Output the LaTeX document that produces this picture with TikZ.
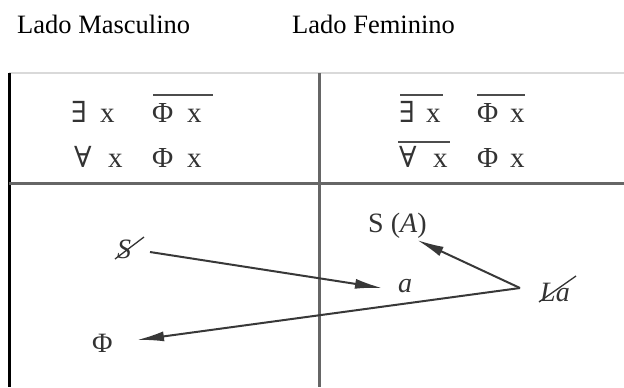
\documentclass[tikz,border=0pt]{standalone}
\usepackage{fontspec}
\setmainfont{Liberation Serif}
\newfontfamily\symf{DejaVu Serif}
\usetikzlibrary{arrows.meta}
\begin{document}
\begin{tikzpicture}[x=1bp,y=-1bp,
  head/.style={anchor=base west,inner sep=0pt,font=\fontsize{26.5bp}{30bp}\selectfont},
  frm/.style={anchor=base west,inner sep=0pt,font=\fontsize{29bp}{30bp}\selectfont,text=black!80},
  lbl/.style={anchor=base west,inner sep=0pt,font=\fontsize{28bp}{30bp}\selectfont,text=black!80},
  bar/.style={line width=2.2bp,black!70},
  frame/.style={line width=3bp},
  arr/.style={draw=black!78,line width=2bp,-{Latex[length=27bp,width=10bp]}},
  slash/.style={line width=1.3bp,black!80}]
\useasboundingbox (0,0) rectangle (624,387);
% headings
\node[head] (hm) at (17,33) {Lado Masculino};
\node[head] (hf) at (292,33) {Lado Feminino};
% table frame
\draw[line width=2bp,black!15] (9,73) -- (624,73);
\draw[frame,black] (9,73) -- (9,387);
\draw[frame,black!60] (319.5,73) -- (319.5,387);
\draw[frame,black!60] (9,183) -- (624,183);
% formulas, male side
\node[frm] (m1q) at (71,122) {\symf ∃};
\node[frm] (m1x) at (100,122) {x};
\node[frm] (m1p) at (152,122) {Φ};
\node[frm] (m1y) at (187,122) {x};
\node[frm] (m2q) at (74,167) {\symf ∀};
\node[frm] (m2x) at (108,167) {x};
\node[frm] (m2p) at (152,167) {Φ};
\node[frm] (m2y) at (187,167) {x};
% formulas, female side
\node[frm] (f1q) at (399,122) {\symf ∃};
\node[frm] (f1x) at (426,122) {x};
\node[frm] (f1p) at (477,122) {Φ};
\node[frm] (f1y) at (510,122) {x};
\node[frm] (f2q) at (399,167) {\symf ∀};
\node[frm] (f2x) at (433,167) {x};
\node[frm] (f2p) at (477,167) {Φ};
\node[frm] (f2y) at (510,167) {x};
% negation bars
\draw[bar] ([shift={(1,-27)}]m1p.base west) -- ([shift={(61,-27)}]m1p.base west);
\draw[bar] ([shift={(1,-27)}]f1q.base west) -- ([shift={(44,-27)}]f1q.base west);
\draw[bar] ([shift={(0,-27)}]f1p.base west) -- ([shift={(48,-27)}]f1p.base west);
\draw[bar] ([shift={(-1,-25)}]f2q.base west) -- ([shift={(51,-25)}]f2q.base west);
% lower part
\node[lbl] (S) at (117,258) {\textit{S}};
\draw[slash] ([shift={(-2,1)}]S.base west) -- ([shift={(27,-21)}]S.base west);
\node[lbl] (a) at (398,292) {\textit{a}};
\node[lbl] (SA) at (368,232) {S (\textit{A})};
\node[lbl] (La) at (540,301) {\textit{La}};
\draw[slash] ([shift={(-1,1)}]La.base west) -- ([shift={(36,-25)}]La.base west);
\node[lbl] (Phi) at (92,352) {Φ};
% arrows
\draw[arr] ([shift={(33,-6)}]S.base west) -- ([shift={(-16,-4)}]a.base west);
\draw[arr] ([shift={(-20,-13)}]La.base west) -- ([shift={(49,8)}]SA.base west);
\draw[arr] ([shift={(-20,-13)}]La.base west) -- ([shift={(45,-12)}]Phi.base west);
\end{tikzpicture}
\end{document}
